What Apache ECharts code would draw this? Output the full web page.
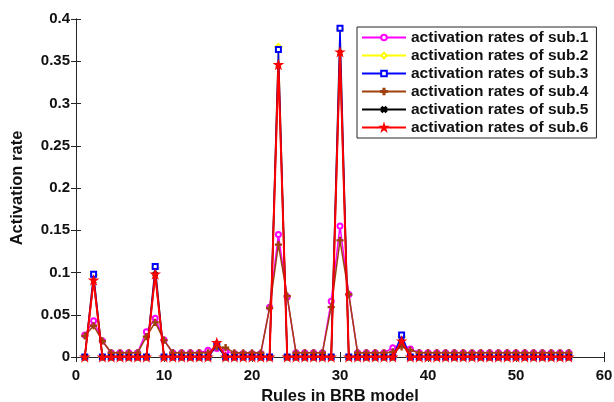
<!DOCTYPE html>
<html><head><meta charset="utf-8">
<script src="https://cdn.jsdelivr.net/npm/echarts@6/dist/echarts.min.js"></script>
<style>html,body{margin:0;padding:0;background:#fff}#c{width:614px;height:402px}</style>
</head><body><div id="c"></div>
<script>
const rules = Array.from({length:56},(_,i)=>i+1);
const seriesNames = ['activation rates of sub.1','activation rates of sub.2','activation rates of sub.3','activation rates of sub.4','activation rates of sub.5','activation rates of sub.6'];
const sub1 = [0.026,0.043,0.019,0.005,0.005,0.005,0.005,0.030,0.046,0.020,0.005,0.005,0.005,0.005,0.008,0.010,0.007,0.004,0.004,0.004,0.004,0.059,0.145,0.071,0.005,0.005,0.005,0.005,0.066,0.155,0.074,0.005,0.005,0.005,0.005,0.011,0.015,0.0095,0.005,0.005,0.005,0.005,0.005,0.005,0.005,0.005,0.005,0.005,0.005,0.005,0.005,0.005,0.005,0.005,0.005,0.005];
const sub2 = [0,0.097,0,0,0,0,0,0,0.106,0,0,0,0,0,0,0.013,0,0,0,0,0,0,0.367,0,0,0,0,0,0,0.388,0,0,0,0,0,0,0.024,0,0,0,0,0,0,0,0,0,0,0,0,0,0,0,0,0,0,0];
const sub3 = [0,0.098,0,0,0,0,0,0,0.107,0,0,0,0,0,0,0.013,0,0,0,0,0,0,0.364,0,0,0,0,0,0,0.389,0,0,0,0,0,0,0.026,0,0,0,0,0,0,0,0,0,0,0,0,0,0,0,0,0,0,0];
const sub4 = [0.025,0.037,0.019,0.005,0.005,0.005,0.005,0.024,0.041,0.020,0.005,0.005,0.005,0.005,0.005,0.012,0.011,0.005,0.005,0.005,0.005,0.058,0.133,0.072,0.005,0.005,0.005,0.005,0.059,0.138,0.074,0.005,0.005,0.005,0.005,0.006,0.012,0.008,0.005,0.005,0.005,0.005,0.005,0.005,0.005,0.005,0.005,0.005,0.005,0.005,0.005,0.005,0.005,0.005,0.005,0.005];
const sub5 = [0,0.090,0,0,0,0,0,0,0.098,0,0,0,0,0,0,0.016,0,0,0,0,0,0,0.345,0,0,0,0,0,0,0.360,0,0,0,0,0,0,0.018,0,0,0,0,0,0,0,0,0,0,0,0,0,0,0,0,0,0,0];
const sub6 = [0,0.091,0,0,0,0,0,0,0.098,0,0,0,0,0,0,0.017,0,0,0,0,0,0,0.346,0,0,0,0,0,0,0.361,0,0,0,0,0,0,0.019,0,0,0,0,0,0,0,0,0,0,0,0,0,0,0,0,0,0,0];
const allData = [sub1,sub2,sub3,sub4,sub5,sub6];
const colors = ['#ff00ff','#ffff00','#0000ff','#a0410d','#000000','#ff0000'];
const plus = 'path://M4,0H6V4H10V6H6V10H4V6H0V4H4Z';
const star = 'path://M5,0L6.2,3.6L10,3.6L6.9,5.8L8.1,9.5L5,7.2L1.9,9.5L3.1,5.8L0,3.6L3.8,3.6Z';
const symbols = ['emptyCircle','emptyDiamond','emptyRect',plus,plus,star];
const symSizes = [5,6,5,6,5,8];
const rotates = [0,0,0,0,45,0];
const widths = [1.5,1.5,1.5,1.5,1.5,2];
const font = 'Liberation Sans, Arial, sans-serif';
const chart = echarts.init(document.getElementById('c'));
const axisLine = {show:true,lineStyle:{color:'#262626',width:1}};
chart.setOption({
  animation:false,
  backgroundColor:'#fff',
  grid:{left:76,right:10,top:19,bottom:45,show:false,containLabel:false,outerBoundsMode:'none'},
  legend:{
    orient:'vertical',left:357,top:27,
    data:seriesNames,
    backgroundColor:'#fff',borderColor:'#262626',borderWidth:1,
    padding:[2,8,2,4],itemGap:1,itemWidth:44,itemHeight:7,
    textStyle:{fontFamily:font,fontWeight:'bold',fontSize:15.5,lineHeight:17,color:'#111'}
  },
  xAxis:[
    {type:'value',min:0,max:60,interval:10,position:'bottom',
     name:'Rules in BRB model',nameLocation:'middle',nameGap:30,
     nameTextStyle:{fontFamily:font,fontWeight:'bold',fontSize:16.5,color:'#111'},
     axisLine:axisLine,axisTick:{show:true,inside:true,length:5,lineStyle:{color:'#262626'}},
     axisLabel:{fontFamily:font,fontWeight:'bold',fontSize:15,color:'#111',margin:11},
     splitLine:{show:false}},
    {type:'value',min:0,max:60,interval:10,position:'top',
     axisLine:axisLine,axisTick:{show:true,inside:true,length:5,lineStyle:{color:'#262626'}},
     axisLabel:{show:false},splitLine:{show:false}}
  ],
  yAxis:[
    {type:'value',min:0,max:0.4,interval:0.05,position:'left',
     name:'Activation rate',nameLocation:'middle',nameGap:50,
     nameTextStyle:{fontFamily:font,fontWeight:'bold',fontSize:16.5,color:'#111'},
     axisLine:axisLine,axisTick:{show:true,inside:true,length:5,lineStyle:{color:'#262626'}},
     axisLabel:{fontFamily:font,fontWeight:'bold',fontSize:15,color:'#111',margin:6,formatter:v=>String(+v.toFixed(2))},
     splitLine:{show:false}},
    {type:'value',min:0,max:0.4,interval:0.05,position:'right',
     axisLine:axisLine,axisTick:{show:true,inside:true,length:5,lineStyle:{color:'#262626'}},
     axisLabel:{show:false},splitLine:{show:false}}
  ],
  series: allData.map((d,i)=>({
    name:seriesNames[i],type:'line',
    data:d.map((v,j)=>[rules[j],v]),
    symbol:symbols[i],symbolSize:symSizes[i],symbolRotate:rotates[i],
    showAllSymbol:true,
    color:colors[i],
    lineStyle:{color:colors[i],width:widths[i]},
    itemStyle:{color:colors[i],borderColor:colors[i],borderWidth:1.2},
    z:2+i
  }))
});
</script></body></html>
